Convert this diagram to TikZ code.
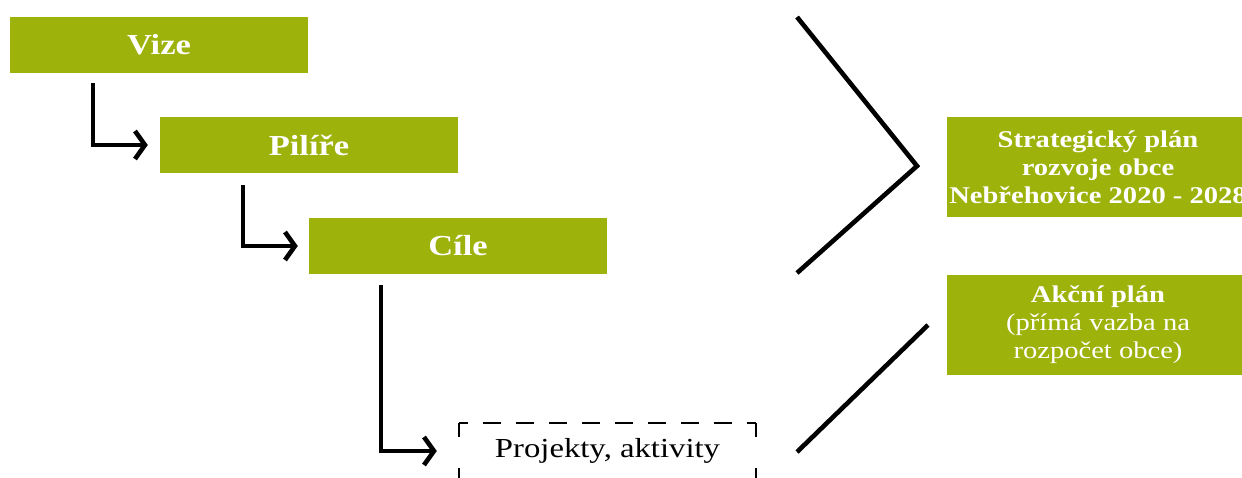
\documentclass[tikz,border=0pt]{standalone}
\usepackage{fontspec}
\setmainfont{Liberation Serif}[FakeStretch=1.19]
\usetikzlibrary{arrows.meta,calc}
\definecolor{pgreen}{RGB}{157,178,11}
\tikzset{
  gbox/.style={fill=pgreen, draw=none, inner sep=0pt, minimum width=298pt, minimum height=56pt,
    text=white, font=\fontsize{29}{32}\selectfont\bfseries},
  rbox/.style={fill=pgreen, draw=none, inner sep=0pt, minimum width=302pt, minimum height=100pt,
    text=white, align=center, font=\fontsize{24}{28}\selectfont},
  elbow/.style={line width=4.6pt, -{Straight Barb[length=10pt,width=28pt]}},
  bracket/.style={line width=4.6pt},
  dsh/.style={line width=2.5pt, dash pattern=on 18pt off 15pt, dash phase=9pt},
  dshv/.style={line width=2.5pt, dash pattern=on 14pt off 31pt}
}
\begin{document}
\begin{tikzpicture}[x=1pt,y=-1pt]
\useasboundingbox (0,0) rectangle (1242,477);
\clip (0,0) rectangle (1242,477);
\node[gbox] (vize) at (159,45) {Vize};
\node[gbox] (pilire) at (309,145) {Pilíře};
\node[gbox] (cile) at (458,246) {Cíle};
\node[inner sep=0pt, minimum width=297pt, minimum height=56pt, font=\fontsize{27.5}{32}\selectfont] (proj) at (607.5,451) {Projekty, aktivity};
\draw[dsh] (proj.north west) -- (proj.north east);
\draw[dshv] (proj.north west) -- (proj.south west);
\draw[dshv] (proj.north east) -- (proj.south east);

\node[rbox] (strat) at (1098,167) {\bfseries Strategický plán\\\bfseries rozvoje obce\\\bfseries Nebřehovice 2020 - 2028};
\node[rbox] (akce) at (1098,325) {\bfseries Akční plán\\(přímá vazba na\\rozpočet obce)};

\draw[elbow, shorten >=12pt] ($(vize.south west)+(83,10)$) |- (pilire.west);
\draw[elbow, shorten >=11pt] ($(pilire.south west)+(83,12)$) |- (cile.west);
\draw[elbow, shorten >=22pt] ($(cile.south west)+(72,11)$) |- (proj.west);

\coordinate (b1) at (797,17);
\coordinate (b2) at (917,166);
\coordinate (b3) at (797,273);
\draw[bracket] (b1) -- (b2) -- (b3);
\coordinate (l1) at (797,452);
\coordinate (l2) at (928,325);
\draw[bracket] (l1) -- (l2);
\end{tikzpicture}
\end{document}
